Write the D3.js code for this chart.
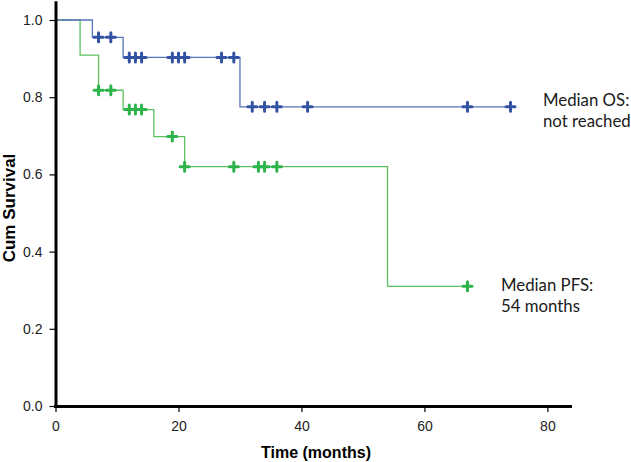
<!DOCTYPE html>
<html>
<head>
<meta charset="utf-8">
<script src="https://cdn.jsdelivr.net/npm/d3@7"></script>
<style>
  html, body { margin: 0; padding: 0; background: #fff; }
  svg { display: block; }
</style>
</head>
<body>
<svg id="chart" width="631" height="462"></svg>
<script>
// ---- Data ----
const xTicks = [0, 20, 40, 60, 80];
const yTicks = [0.0, 0.2, 0.4, 0.6, 0.8, 1.0];

// Overall survival (OS): event times and survival after each event
const osEventTimes = [6, 11, 30];
const osSurvival   = [0.955, 0.903, 0.775];
const osEnd = 74;
const osCensored = [7, 9, 12, 13, 14, 19, 20, 21, 27, 29, 32, 34, 36, 41, 67, 74];

// Progression-free survival (PFS)
const pfsEventTimes = [4, 7, 11, 16, 21, 54];
const pfsSurvival   = [0.909, 0.818, 0.768, 0.698, 0.62, 0.31];
const pfsEnd = 67;
const pfsCensored = [7, 9, 12, 13, 14, 19, 21, 29, 33, 34, 36, 67];

const labelOS  = ["Median OS:", "not reached"];
const labelPFS = ["Median PFS:", "54 months"];

// ---- Drawing ----
const svg = d3.select("#chart");
const x = d3.scaleLinear().domain([0, 84]).range([55.5, 572]);
const y = d3.scaleLinear().domain([0, 1.05]).range([406, 0.7]);

function stepPoints(times, surv, end) {
  const pts = [{t: 0, s: 1}];
  times.forEach((t, i) => pts.push({t: t, s: surv[i]}));
  pts.push({t: end, s: surv[surv.length - 1]});
  return pts;
}
function survAt(times, surv, t) {
  let s = 1;
  times.forEach((et, i) => { if (et <= t) s = surv[i]; });
  return s;
}

const line = d3.line().x(d => x(d.t)).y(d => y(d.s)).curve(d3.curveStepAfter);

const series = [
  {times: pfsEventTimes, surv: pfsSurvival, end: pfsEnd, cens: pfsCensored, line: "#5cc060", mark: "#2cb34a"},
  {times: osEventTimes, surv: osSurvival, end: osEnd, cens: osCensored, line: "#5873ba", mark: "#3452a3"}
];

series.forEach(sr => {
  svg.append("path")
    .attr("d", line(stepPoints(sr.times, sr.surv, sr.end)))
    .attr("fill", "none")
    .attr("stroke", sr.line)
    .attr("stroke-width", 1.3);
  const r = 4.5;
  svg.append("g").selectAll("path")
    .data(sr.cens)
    .join("path")
    .attr("d", d => {
      const cx = x(d), cy = y(survAt(sr.times, sr.surv, d));
      return `M${cx - r},${cy}H${cx + r}M${cx},${cy - r}V${cy + r}`;
    })
    .attr("stroke", sr.mark)
    .attr("stroke-width", 3)
    .attr("stroke-linecap", "round");
});

// Axes
const yAxis = d3.axisLeft(y).tickValues(yTicks).tickFormat(d3.format(".1f")).tickSize(6).tickSizeOuter(0);
const gy = svg.append("g").attr("transform", "translate(55.5,0)").call(yAxis);
gy.select(".domain").attr("stroke-width", 3);
gy.selectAll(".tick line").attr("stroke-width", 1.2);
gy.selectAll(".tick text").attr("font-family", "Liberation Sans, Arial, sans-serif").attr("font-size", 14).attr("fill", "#222").attr("x", -13);

const xAxis = d3.axisBottom(x).tickValues(xTicks).tickSize(6).tickSizeOuter(0);
const gx = svg.append("g").attr("transform", "translate(0,406)").call(xAxis);
gx.select(".domain").attr("stroke-width", 3).attr("d", `M54,0.5H${x(84)}`);
gx.selectAll(".tick line").attr("stroke-width", 1.2);
gx.selectAll(".tick text").attr("font-family", "Liberation Sans, Arial, sans-serif").attr("font-size", 14).attr("fill", "#222").attr("y", 15);

// Axis titles
svg.append("text")
  .attr("x", 316).attr("y", 458)
  .attr("text-anchor", "middle")
  .attr("font-family", "Liberation Sans, Arial, sans-serif")
  .attr("font-weight", "bold").attr("font-size", 16)
  .text("Time (months)");
svg.append("text")
  .attr("transform", "translate(15,208) rotate(-90)")
  .attr("text-anchor", "middle")
  .attr("font-family", "Liberation Sans, Arial, sans-serif")
  .attr("font-weight", "bold").attr("font-size", 17)
  .text("Cum Survival");

// Median annotations
function annot(lines, x0, y0) {
  const t = svg.append("text")
    .attr("font-family", "Lato, 'Open Sans', sans-serif")
    .attr("font-size", 16.8).attr("fill", "#1a1a1a");
  lines.forEach((s, i) => t.append("tspan").attr("x", x0).attr("y", y0 + i * 21).text(s));
}
annot(labelOS, 543, 106);
annot(labelPFS, 501, 291);
</script>
</body>
</html>
